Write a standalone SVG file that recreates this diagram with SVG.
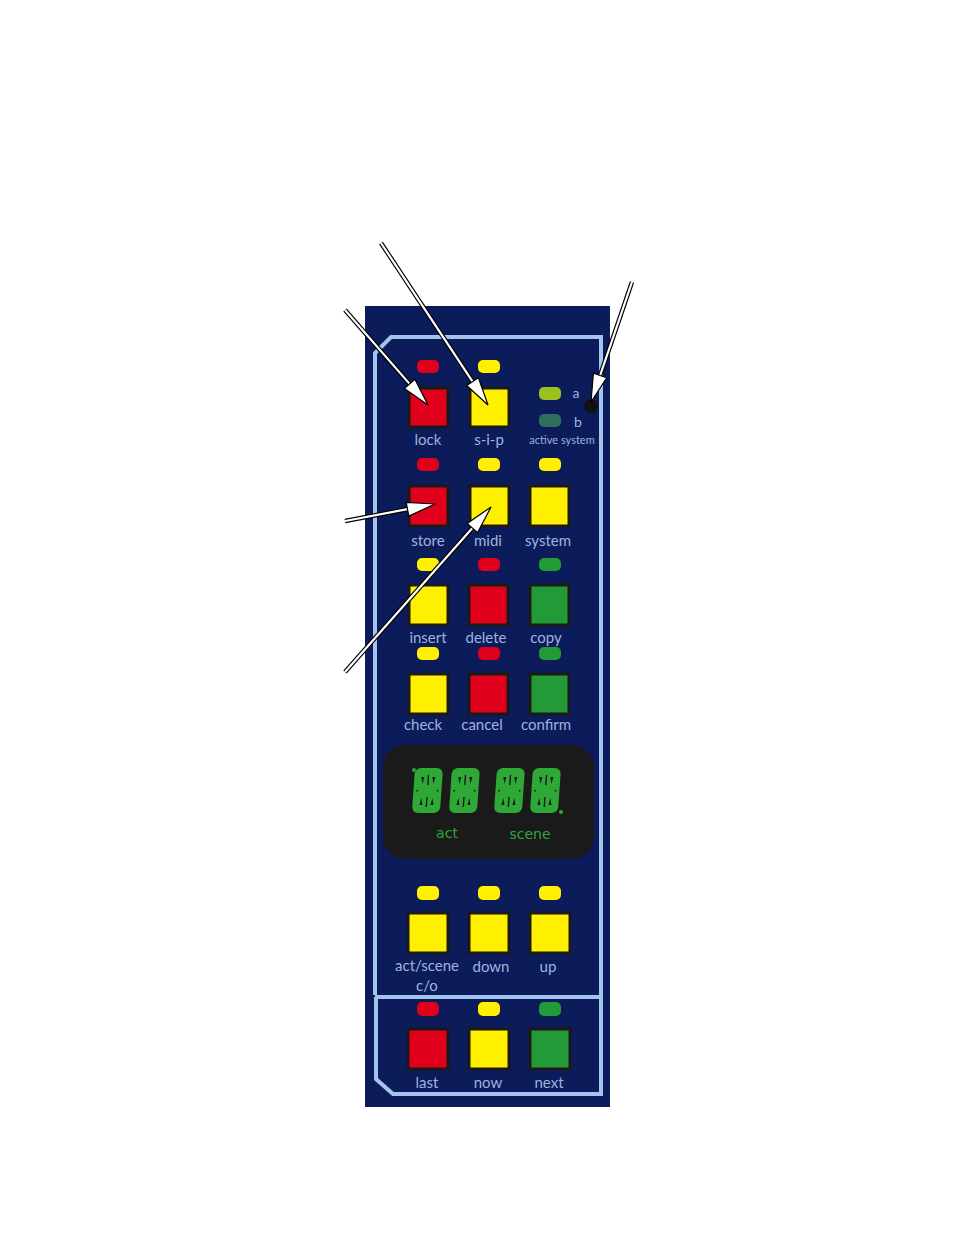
<svg xmlns="http://www.w3.org/2000/svg" xmlns:xlink="http://www.w3.org/1999/xlink" width="954" height="1235" viewBox="0 0 954 1235">
<style>
.btn{stroke:#1a1a1a;stroke-width:3}
.r{fill:#e0001b}.y{fill:#fff000}.g{fill:#229a38}
.led{stroke:none}
.lbl{font-family:Lato,"Open Sans",sans-serif;font-size:15px;fill:#9fb3df;text-anchor:middle}
.frame{fill:none;stroke:#a3c4ec;stroke-width:4}
.aout{fill:none;stroke:#000;stroke-width:4.5}
.ain{fill:none;stroke:#fff;stroke-width:2.2}
.ahead{fill:#fff;stroke:#000;stroke-width:1.2;stroke-linejoin:miter}
.seg{fill:#2ea836}
.gap{fill:#1a1a1a}
.dl{font-family:"DejaVu Sans",sans-serif;font-size:14px;fill:#2ea836;text-anchor:middle}
</style>
<defs>
<g id="dig">
<rect x="0" y="0" width="28" height="45" rx="6" class="seg"/>
<polygon class="gap" points="7,9 10,9 8.5,16"/>
<polygon class="gap" points="18,9 21,9 19.5,16"/>
<rect class="gap" x="13.3" y="7" width="1.4" height="10"/>
<polygon class="gap" points="7,37 10,37 8.5,30"/>
<polygon class="gap" points="18,37 21,37 19.5,30"/>
<rect class="gap" x="13.3" y="29" width="1.4" height="10"/>
<rect class="gap" x="3" y="22" width="1.6" height="1.6"/>
<rect class="gap" x="23.4" y="22" width="1.6" height="1.6"/>
</g>
</defs>
<rect width="954" height="1235" fill="#fff"/>
<g id="panel">
<rect x="365" y="306" width="245" height="801" fill="#0c1b5a"/>
<path class="frame" d="M375,995 L375,353 L391,337 L601,337 L601,995"/>
<path class="frame" d="M375,997 L601,997 L601,1094 L393,1094 L376,1079 L376,997"/>
</g>
<g id="btn-lock"><rect x="417" y="360" width="22" height="13" rx="5" class="led r"/><rect x="409" y="388" width="39" height="39" class="btn r"/><text x="428" y="445" class="lbl">lock</text></g>
<g id="btn-sip"><rect x="478" y="360" width="22" height="13" rx="5" class="led y"/><rect x="470" y="388" width="39" height="39" class="btn y"/><text x="489" y="445" class="lbl">s-i-p</text></g>
<g id="active-system">
<rect x="539" y="387" width="22" height="13" rx="5" fill="#9ac21e"/>
<rect x="539" y="414" width="22" height="13" rx="5" fill="#2e6e5a"/>
<text x="576" y="398" class="lbl" style="font-size:14px">a</text>
<text x="578" y="427" class="lbl" style="font-size:14px">b</text>
<circle cx="591" cy="406" r="7" fill="#111"/>
<text x="562" y="444" class="lbl" style="font-size:11px">active system</text>
</g>
<g id="btn-store"><rect x="417" y="458" width="22" height="13" rx="5" class="led r"/><rect x="409" y="486" width="39" height="40" class="btn r"/><text x="428" y="546" class="lbl">store</text></g>
<g id="btn-midi"><rect x="478" y="458" width="22" height="13" rx="5" class="led y"/><rect x="470" y="486" width="39" height="40" class="btn y"/><text x="488" y="546" class="lbl">midi</text></g>
<g id="btn-system"><rect x="539" y="458" width="22" height="13" rx="5" class="led y"/><rect x="530" y="486" width="39" height="40" class="btn y"/><text x="548" y="546" class="lbl">system</text></g>
<g id="btn-insert"><rect x="417" y="558" width="22" height="13" rx="5" class="led y"/><rect x="409" y="585" width="39" height="40" class="btn y"/><text x="428" y="643" class="lbl">insert</text></g>
<g id="btn-delete"><rect x="478" y="558" width="22" height="13" rx="5" class="led r"/><rect x="469" y="585" width="39" height="40" class="btn r"/><text x="486" y="643" class="lbl">delete</text></g>
<g id="btn-copy"><rect x="539" y="558" width="22" height="13" rx="5" class="led g"/><rect x="530" y="585" width="39" height="40" class="btn g"/><text x="546" y="643" class="lbl">copy</text></g>
<g id="btn-check"><rect x="417" y="647" width="22" height="13" rx="5" class="led y"/><rect x="409" y="674" width="39" height="40" class="btn y"/><text x="423" y="730" class="lbl">check</text></g>
<g id="btn-cancel"><rect x="478" y="647" width="22" height="13" rx="5" class="led r"/><rect x="469" y="674" width="39" height="40" class="btn r"/><text x="482" y="730" class="lbl">cancel</text></g>
<g id="btn-confirm"><rect x="539" y="647" width="22" height="13" rx="5" class="led g"/><rect x="530" y="674" width="39" height="40" class="btn g"/><text x="546" y="730" class="lbl">confirm</text></g>
<g id="display">
<rect x="383" y="745" width="211" height="114" rx="22" fill="#1a1a1a"/>
<use xlink:href="#dig" transform="translate(415,768) skewX(-4)"/>
<use xlink:href="#dig" transform="translate(452,768) skewX(-4)"/>
<use xlink:href="#dig" transform="translate(497,768) skewX(-4)"/>
<use xlink:href="#dig" transform="translate(533,768) skewX(-4)"/>
<circle cx="414" cy="770" r="2" fill="#2ea836"/>
<circle cx="561" cy="812" r="2" fill="#2ea836"/>
<text x="447" y="838" class="dl">act</text>
<text x="530" y="839" class="dl">scene</text>
</g>
<g id="btn-actscene"><rect x="417" y="886" width="22" height="14" rx="5" class="led y"/><rect x="408" y="913" width="40" height="40" class="btn y"/><text x="427" y="971" class="lbl">act/scene</text><text x="427" y="991" class="lbl">c/o</text></g>
<g id="btn-down"><rect x="478" y="886" width="22" height="14" rx="5" class="led y"/><rect x="469" y="913" width="40" height="40" class="btn y"/><text x="491" y="972" class="lbl">down</text></g>
<g id="btn-up"><rect x="539" y="886" width="22" height="14" rx="5" class="led y"/><rect x="530" y="913" width="40" height="40" class="btn y"/><text x="548" y="972" class="lbl">up</text></g>
<g id="btn-last"><rect x="417" y="1002" width="22" height="14" rx="5" class="led r"/><rect x="408" y="1029" width="40" height="40" class="btn r"/><text x="427" y="1088" class="lbl">last</text></g>
<g id="btn-now"><rect x="478" y="1002" width="22" height="14" rx="5" class="led y"/><rect x="469" y="1029" width="40" height="40" class="btn y"/><text x="488" y="1088" class="lbl">now</text></g>
<g id="btn-next"><rect x="539" y="1002" width="22" height="14" rx="5" class="led g"/><rect x="530" y="1029" width="40" height="40" class="btn g"/><text x="549" y="1088" class="lbl">next</text></g>
<g id="connectors">
<path class="aout" d="M345,310 L409.6,383.9"/><path class="ain" d="M345,310 L409.6,383.9"/>
<polygon class="ahead" points="428,405 404.3,388.5 414.9,379.3"/>
<path class="aout" d="M381,243 L472.6,381.6"/><path class="ain" d="M381,243 L472.6,381.6"/>
<polygon class="ahead" points="488,405 466.7,385.5 478.4,377.7"/>
<path class="aout" d="M632,282 L600.1,375.5"/><path class="ain" d="M632,282 L600.1,375.5"/>
<polygon class="ahead" points="591,402 593.4,373.2 606.7,377.8"/>
<path class="aout" d="M345,521 L407.5,509.2"/><path class="ain" d="M345,521 L407.5,509.2"/>
<polygon class="ahead" points="435,504 408.8,516.1 406.2,502.3"/>
<path class="aout" d="M345,672 L472.4,528"/><path class="ain" d="M345,672 L472.4,528"/>
<polygon class="ahead" points="491,507 477.6,532.6 467.2,523.4"/>
</g>
</svg>
